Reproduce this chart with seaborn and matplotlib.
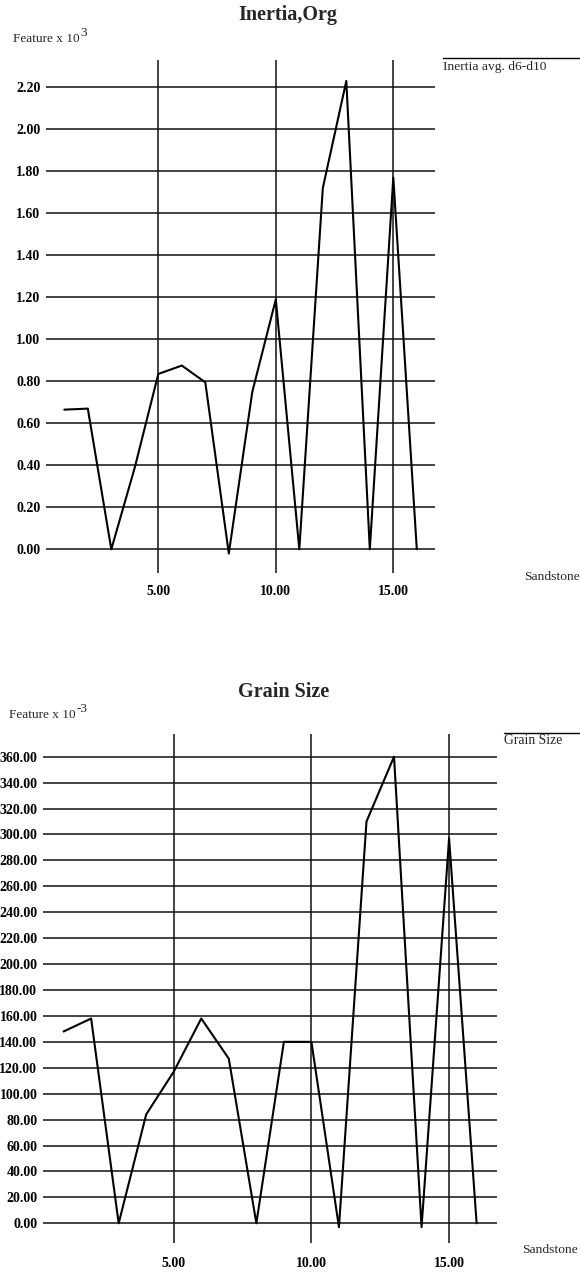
import matplotlib
matplotlib.use("Agg")
import matplotlib.pyplot as plt
import seaborn as sns
import pandas as pd

# Sample index along the sandstone sequence
samples = list(range(1, 17))

# Inertia (average d6-d10), feature x 10^3
inertia = [0.665, 0.67, 0.0, 0.39, 0.835, 0.875, 0.795, -0.02,
           0.75, 1.19, 0.0, 1.72, 2.23, 0.0, 1.77, 0.0]

# Grain size, feature x 10^-3
grain = [148, 158, 0, 84, 117, 158, 127, 0,
         140, 140, -3, 310, 360, -3, 297, 0]

inertia_ticks = [0.0, 0.2, 0.4, 0.6, 0.8, 1.0, 1.2, 1.4, 1.6, 1.8, 2.0, 2.2]
grain_ticks = list(range(0, 361, 20))
x_ticks = [5, 10, 15]

sns.set_style("white")
plt.rcParams["font.family"] = ["Liberation Serif", "DejaVu Serif"]

W, H = 580, 1272
fig = plt.figure(figsize=(W / 100, H / 100), dpi=100)
fig.patch.set_facecolor("white")
renderer = fig.canvas.get_renderer()


def box(x0, y0, x1, y1):
    """Axes rectangle from pixel corners (top-left origin)."""
    return [x0 / W, 1 - y1 / H, (x1 - x0) / W, (y1 - y0) / H]


def ftext(x, y, s, **kw):
    return fig.text(x / W, 1 - y / H, s, **kw)


def unit_label(x, y, exponent):
    """'Feature x 10' followed by a raised exponent."""
    base = ftext(x, y, "Feature x 10", ha="left", va="baseline", fontsize=9.5)
    ext = base.get_window_extent(renderer=renderer)
    ftext(ext.x1 + 0.5, y - 6, exponent, ha="left", va="baseline",
          fontsize=9.5)


def panel(rect, values, xlim, ylim, yticks, xpad):
    ax = fig.add_axes(rect)
    df = pd.DataFrame({"Sample": samples, "Value": values})
    sns.lineplot(data=df, x="Sample", y="Value", ax=ax, color="black",
                 linewidth=1.5, zorder=3)
    ax.set_xlim(*xlim)
    ax.set_ylim(*ylim)
    ax.set_xticks(x_ticks)
    ax.set_xticklabels([f"{t:.2f}" for t in x_ticks])
    ax.set_yticks(yticks)
    ax.set_yticklabels([f"{t:.2f}" for t in yticks])
    for s in ax.spines.values():
        s.set_visible(False)
    ax.grid(True, axis="both", color="#111111", linewidth=1.1)
    ax.tick_params(axis="both", length=0, labelsize=10, colors="black")
    ax.tick_params(axis="y", pad=4)
    ax.tick_params(axis="x", pad=xpad)
    for lab in ax.get_xticklabels() + ax.get_yticklabels():
        lab.set_fontweight("bold")
    ax.set_xlabel("")
    ax.set_ylabel("")
    ax.set_facecolor("white")
    return ax


# Upper panel: inertia
panel(box(46, 60, 435, 572.7), inertia,
      (0.221, 16.774), (-0.1114, 2.330), inertia_ticks, 9)
ftext(288, 15, "Inertia,Org", ha="center", va="center",
      fontsize=14.5, fontweight="bold")
unit_label(13, 42.5, "3")
ftext(524, 577, "Sandstone", ha="left", va="center", fontsize=9.7)
fig.add_artist(plt.Line2D([443 / W, 1.0], [1 - 57.5 / H, 1 - 57.5 / H],
                          color="black", linewidth=1.0))
ftext(443, 70, "Inertia avg. d6-d10", ha="left", va="baseline", fontsize=9.7)

# Lower panel: grain size
panel(box(43, 734.3, 497, 1242.7), grain,
      (0.252, 16.74), (-14.97, 377.3), grain_ticks, 10)
ftext(284, 692, "Grain Size", ha="center", va="center",
      fontsize=14.5, fontweight="bold")
unit_label(9, 718, "-3")
ftext(522, 1250, "Sandstone", ha="left", va="center", fontsize=9.7)
fig.add_artist(plt.Line2D([504 / W, 1.0], [1 - 733 / H, 1 - 733 / H],
                          color="black", linewidth=1.0))
ftext(504, 744, "Grain Size", ha="left", va="baseline", fontsize=9.8)

fig.savefig("out.png", dpi=100, facecolor="white")
